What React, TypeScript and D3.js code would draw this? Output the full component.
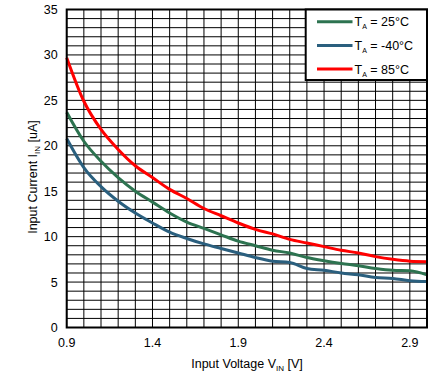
import React, { useRef, useEffect } from 'react';
import * as d3 from 'd3';

// input voltage samples [V]
const vin = [0.9, 1.0, 1.1, 1.2, 1.3, 1.4, 1.5, 1.6, 1.7, 1.8, 1.9, 2.0, 2.1, 2.2, 2.3, 2.4, 2.5, 2.6, 2.7, 2.8, 2.9, 3.0];

// input current [uA]
const i25 = [23.7, 20.5, 18.3, 16.5, 15.0, 13.8, 12.6, 11.6, 10.9, 10.2, 9.5, 9.0, 8.5, 8.2, 7.7, 7.35, 7.05, 6.8, 6.5, 6.3, 6.25, 5.8];
const iMinus40 = [20.8, 17.6, 15.5, 13.9, 12.6, 11.5, 10.5, 9.8, 9.2, 8.7, 8.2, 7.7, 7.3, 7.15, 6.5, 6.3, 6.0, 5.8, 5.5, 5.4, 5.15, 5.05];
const i85 = [29.7, 24.9, 21.8, 19.6, 17.8, 16.5, 15.2, 14.2, 13.1, 12.3, 11.5, 10.8, 10.3, 9.7, 9.3, 8.9, 8.5, 8.2, 7.8, 7.5, 7.3, 7.25];

const seriesNames = ['25°C', '-40°C', '85°C'];
const seriesColors = ['#2d7350', '#2a5f7e', '#ff0000'];
const seriesValues = [i25, iMinus40, i85];

const xTicks = [0.9, 1.4, 1.9, 2.4, 2.9];
const yTicks = [0, 5, 10, 15, 20, 25, 30, 35];

const App = () => {
  const svgRef = useRef(null);

  useEffect(() => {
    const svg = d3.select(svgRef.current);
    svg.selectAll('*').remove();

    const width = 442;
    const height = 387;
    const margin = { top: 9.5, right: 15, bottom: 59.5, left: 66.7 };
    const font = 'Liberation Sans, Arial, sans-serif';

    const x = d3.scaleLinear()
      .domain([0.9, 3.0])
      .range([margin.left, width - margin.right]);

    const y = d3.scaleLinear()
      .domain([0, 35])
      .range([height - margin.bottom, margin.top]);

    // grid
    const grid = svg.append('g').attr('stroke', '#000').attr('stroke-width', 1);
    grid.selectAll('line.v')
      .data(d3.range(0, 22).map(i => 0.9 + i * 0.1))
      .join('line')
      .attr('x1', d => x(d)).attr('x2', d => x(d))
      .attr('y1', y(0)).attr('y2', y(35));
    grid.selectAll('line.h')
      .data(d3.range(0, 36))
      .join('line')
      .attr('x1', x(0.9)).attr('x2', x(3.0))
      .attr('y1', d => y(d)).attr('y2', d => y(d));

    // curves
    const line = d3.line()
      .x((d, i) => x(vin[i]))
      .y(d => y(d))
      .curve(d3.curveMonotoneX);

    seriesValues.forEach((vals, k) => {
      svg.append('path')
        .datum(vals)
        .attr('fill', 'none')
        .attr('stroke', seriesColors[k])
        .attr('stroke-width', 3)
        .attr('d', line);
    });

    // frame
    svg.append('rect')
      .attr('x', x(0.9)).attr('y', y(35))
      .attr('width', x(3.0) - x(0.9))
      .attr('height', y(0) - y(35))
      .attr('fill', 'none')
      .attr('stroke', '#000')
      .attr('stroke-width', 2);

    // tick labels
    svg.append('g')
      .selectAll('text')
      .data(yTicks)
      .join('text')
      .attr('x', margin.left - 9)
      .attr('y', d => y(d) + 4.5)
      .attr('text-anchor', 'end')
      .attr('font-family', font)
      .attr('font-size', 12.5)
      .text(d => d);

    svg.append('g')
      .selectAll('text')
      .data(xTicks)
      .join('text')
      .attr('x', d => x(d))
      .attr('y', 347)
      .attr('text-anchor', 'middle')
      .attr('font-family', font)
      .attr('font-size', 12.5)
      .text(d => d.toFixed(1));

    // axis titles
    const xt = svg.append('text')
      .attr('x', 247)
      .attr('y', 368)
      .attr('text-anchor', 'middle')
      .attr('font-family', font)
      .attr('font-size', 12.5);
    xt.append('tspan').text('Input Voltage V');
    xt.append('tspan').attr('font-size', 8).attr('dy', 3).text('IN');
    xt.append('tspan').attr('dy', -3).text(' [V]');

    const yt = svg.append('text')
      .attr('transform', `translate(37,177) rotate(-90)`)
      .attr('text-anchor', 'middle')
      .attr('font-family', font)
      .attr('font-size', 12.5);
    yt.append('tspan').text('Input Current I');
    yt.append('tspan').attr('font-size', 8).attr('dy', 3).text('IN');
    yt.append('tspan').attr('dy', -3).text(' [uA]');

    // legend
    const lg = svg.append('g');
    lg.append('rect')
      .attr('x', 305.7).attr('y', 9.5)
      .attr('width', x(3.0) - 305.7)
      .attr('height', 70.5)
      .attr('fill', '#fff')
      .attr('stroke', '#000')
      .attr('stroke-width', 2);

    seriesNames.forEach((name, k) => {
      const ly = 21.7 + k * 23.7;
      lg.append('line')
        .attr('x1', 317).attr('x2', 352.5)
        .attr('y1', ly).attr('y2', ly)
        .attr('stroke', seriesColors[k])
        .attr('stroke-width', 3);
      const t = lg.append('text')
        .attr('x', 354.5)
        .attr('y', ly + 4.5)
        .attr('font-family', font)
        .attr('font-size', 12.5);
      t.append('tspan').text('T');
      t.append('tspan').attr('font-size', 7).attr('dy', 3).text('A');
      t.append('tspan').attr('dy', -3).text(' = ' + name);
    });
  }, []);

  return (
    <svg
      ref={svgRef}
      width={442}
      height={387}
      style={{ position: 'absolute', left: 0, top: 0, background: '#fff' }}
    ></svg>
  );
};

export default App;
